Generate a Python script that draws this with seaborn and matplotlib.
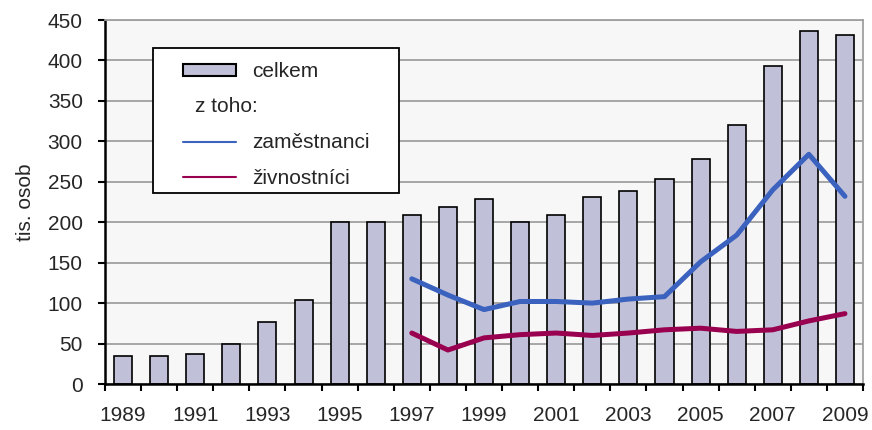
import numpy as np
import pandas as pd
import matplotlib
matplotlib.use("Agg")
import matplotlib.pyplot as plt
import seaborn as sns
from matplotlib.patches import Patch, Rectangle
from matplotlib.lines import Line2D

years = [str(y) for y in range(1989, 2010)]
celkem = [35, 35, 37, 50, 77, 104, 200, 200, 209, 219, 229, 200, 209, 231,
          239, 254, 278, 320, 393, 437, 432]
line_years = [str(y) for y in range(1997, 2010)]
zamestnanci = [130, 110, 92, 102, 102, 100, 105, 108, 151, 184, 240, 284, 232]
zivnostnici = [63, 42, 57, 61, 63, 60, 63, 67, 69, 65, 67, 78, 87]

sns.set_style("white")
plt.rcParams['font.family'] = ['Liberation Sans', 'DejaVu Sans']

bar_c = '#C0C0D8'
blue = '#3A62BE'
purple = '#99004F'
fs = 15

df_bar = pd.DataFrame({'rok': years, 'val': celkem})
df_lin = pd.DataFrame({'rok': line_years * 2,
                       'val': zamestnanci + zivnostnici,
                       'ser': ['zaměstnanci'] * 13 + ['živnostníci'] * 13})

fig = plt.figure(figsize=(8.72, 4.30), dpi=100)
ax = fig.add_axes([105/872, 46/430, 758/872, 364/430])
ax.set_facecolor('#F7F7F7')

sns.barplot(data=df_bar, x='rok', y='val', order=years, color=bar_c,
            width=0.5, edgecolor='black', linewidth=1.2, saturation=1, ax=ax,
            zorder=2)
sns.pointplot(data=df_lin, x='rok', y='val', hue='ser', order=years,
              palette=[blue, purple], markers='', errorbar=None,
              linewidth=3.6, ax=ax, legend=False, zorder=3)

ax.set_ylim(0, 450)
ax.set_xlim(-0.5, 20.5)
ax.set_yticks(range(0, 451, 50))
ax.yaxis.grid(True, color='#A0A0A0', linewidth=1.3, zorder=0)
ax.set_axisbelow(True)
ax.set_xticks(range(0, 21, 2))
ax.set_xticklabels(years[::2])
ax.set_xticks(np.arange(-0.5, 21, 1), minor=True)
ax.tick_params(axis='x', which='major', length=0, pad=16, labelsize=fs)
ax.tick_params(axis='x', which='minor', length=5, width=1.5, direction='out',
               color='black', bottom=True)
ax.tick_params(axis='y', length=5, width=1.5, direction='out', left=True,
               color='black', pad=11, labelsize=fs)
ax.set_xlabel('')
ax.set_ylabel('tis. osob', fontsize=fs, labelpad=9)

for s in ['left', 'bottom']:
    ax.spines[s].set_color('black')
    ax.spines[s].set_linewidth(1.8)
for s in ['top', 'right']:
    ax.spines[s].set_color('#A0A0A0')
    ax.spines[s].set_linewidth(1.3)

# legend frame drawn separately
ax.add_patch(Rectangle((152.7/872, 1 - 193/430), 246.3/872, 144.7/430,
                       transform=fig.transFigure, facecolor='white',
                       edgecolor='black', linewidth=1.3, zorder=4,
                       clip_on=False))

handles = [Patch(facecolor=bar_c, edgecolor='black', linewidth=1.5),
           Line2D([], [], color='none'),
           Line2D([], [], color=blue, linewidth=1.5),
           Line2D([], [], color=purple, linewidth=1.5)]
labels = ['celkem', ' ', 'zaměstnanci', 'živnostníci']
leg = ax.legend(handles, labels, loc='upper left',
                bbox_to_anchor=(183/872, 1 - 62/430),
                bbox_transform=fig.transFigure, fontsize=fs, frameon=False,
                borderpad=0, labelspacing=0.80, handlelength=2.55,
                handleheight=0.5, handletextpad=0.75, borderaxespad=0)
leg.set_zorder(5)
ax.text(195/872, 1 - 107/430, 'z toho:', fontsize=fs, va='center',
        ha='left', transform=fig.transFigure, zorder=6)

fig.savefig('out.png', dpi=100)
